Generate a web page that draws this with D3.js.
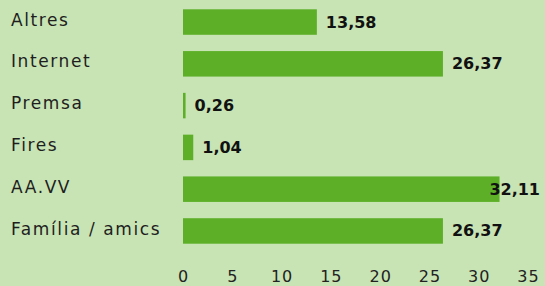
<!DOCTYPE html>
<html>
<head>
<meta charset="utf-8">
<script src="https://cdn.jsdelivr.net/npm/d3@7"></script>
<style>
  html, body { margin: 0; padding: 0; background: #c8e4b4; }
  svg { display: block; }
  .cat { font-family: "DejaVu Sans", sans-serif; font-size: 17px; letter-spacing: 1.6px; fill: #1e1e1e; }
  .val { font-family: "DejaVu Sans", sans-serif; font-size: 16px; font-weight: bold; fill: #111; }
  .tick text { font-family: "DejaVu Sans", sans-serif; font-size: 16px; letter-spacing: 1px; fill: #222; }
</style>
</head>
<body>
<script>
"use strict"

// Horizontal bar chart, values with decimal comma

var categories = ["Altres", "Internet", "Premsa", "Fires", "AA.VV", "Família / amics"]
var values = [13.58, 26.37, 0.26, 1.04, 32.11, 26.37]
var ticks = [0, 5, 10, 15, 20, 25, 30, 35]

var width = 545
var height = 286
var barColor = "#5caf27"

var x = d3.scaleLinear()
  .domain([0, 35])
  .range([183, 528])

var y = d3.scaleBand()
  .domain(categories)
  .range([9.3, 243.7])
  .paddingInner(0.39)
  .paddingOuter(0)

var fmt = function(v) { return d3.format(".2f")(v).replace(".", ",") }

var svg = d3.select("body").append("svg")
  .attr("width", width)
  .attr("height", height)

svg.append("rect")
  .attr("width", width)
  .attr("height", height)
  .attr("fill", "#c8e4b4")

var rows = svg.selectAll("g.row")
  .data(categories)
  .enter().append("g")
    .attr("class", "row")

rows.append("text")
  .attr("class", "cat")
  .attr("x", 11)
  .attr("y", function(d) { return y(d) + y.bandwidth() / 2 + 3.6 })
  .text(function(d) { return d })

rows.append("rect")
  .attr("x", x(0))
  .attr("y", function(d) { return y(d) })
  .attr("height", y.bandwidth())
  .attr("width", function(d, i) { return x(values[i]) - x(0) })
  .attr("fill", barColor)

rows.append("text")
  .attr("class", "val")
  .attr("y", function(d) { return y(d) + y.bandwidth() / 2 + 5.5 })
  .text(function(d, i) { return fmt(values[i]) })
  .attr("x", function(d, i) {
    var w = this.getComputedTextLength()
    return Math.min(x(values[i]) + 9, 540 - w)
  })

var axis = d3.axisBottom(x)
  .tickValues(ticks)
  .tickSize(0)
  .tickPadding(0)
  .tickFormat(d3.format("d"))

svg.append("g")
  .attr("transform", "translate(0,264)")
  .call(axis)
  .call(function(g) { g.select(".domain").remove() })
  .selectAll("text")
    .attr("dy", "1.1em")
</script>
</body>
</html>
